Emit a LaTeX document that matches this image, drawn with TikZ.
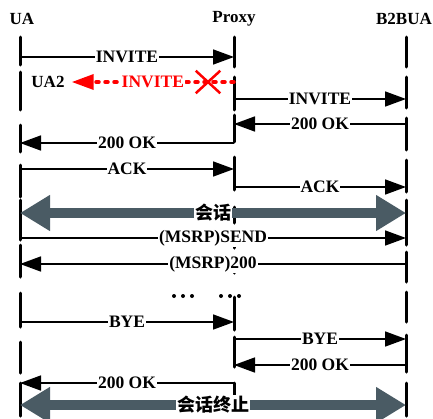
\documentclass[tikz,border=0pt]{standalone}
\usepackage{fontspec}
\setmainfont{Liberation Serif}
\newfontfamily\cjk{Noto Sans CJK SC}
\usetikzlibrary{arrows.meta, positioning, shapes.misc}
\definecolor{sessgray}{HTML}{4A5B64}

\begin{document}
\begin{tikzpicture}[x=1pt, y=-1pt,
    lifeline/.style={line width=3pt, line cap=round},
    msg/.style={line width=1.6pt, -{Triangle[length=21pt, width=15pt]}},
    lbl/.style={fill=white, inner sep=1pt, font=\fontsize{17.5}{18}\selectfont\bfseries},
    actor/.style={font=\fontsize{17}{18}\selectfont\bfseries},
    session/.style={line width=10pt, sessgray,
        {Triangle[length=30pt, width=34pt]}-{Triangle[length=30pt, width=34pt]}},
    sesslbl/.style={fill=white, inner sep=1pt, font=\fontsize{18}{19}\selectfont\cjk\bfseries}]
    \useasboundingbox (0,0) rectangle (433,418);

    % actors
    \node[actor] (ualbl) at (22,19) {UA};
    \node[actor] (pxlbl) at (234,19) {Proxy};
    \node[actor] (bualbl) at (404,19) {B2BUA};
    \coordinate (ua) at (20,0);
    \coordinate (px) at (234,0);
    \coordinate (bua) at (406,0);

    % lifelines
    \foreach \a/\b in {37/65, 72/110, 125/152, 165/197, 200/240, 245/277, 293/327, 342/373, 383/416} {
        \draw[lifeline] (ua |- 0,\a) -- (ua |- 0,\b);
    }
    \foreach \a/\b in {37/67, 77/110, 115/142, 157/190, 207/223, 246/248, 263/273, 297/330, 337/367, 383/403} {
        \draw[lifeline] (px |- 0,\a) -- (px |- 0,\b);
    }
    \foreach \a/\b in {37/67, 77/108, 118/150, 160/192, 200/245, 252/282, 292/322, 335/372, 383/416} {
        \draw[lifeline] (bua |- 0,\a) -- (bua |- 0,\b);
    }

    % messages
    \foreach \from/\to/\y/\txt in {ua/px/57/INVITE, px/bua/99/INVITE, bua/px/124/200 OK,
        px/ua/143/200 OK, ua/px/169/ACK, px/bua/187/ACK, ua/bua/238/(MSRP)SEND,
        bua/ua/264/(MSRP)200, ua/px/322/BYE, px/bua/339/BYE, bua/px/365/200 OK, px/ua/383/200 OK} {
        \draw[msg] (\from |- 0,\y) -- node[lbl] {\txt} (\to |- 0,\y);
    }

    % forked INVITE to UA2, dropped
    \node[actor, inner sep=1pt] (ua2) at (48,82) {UA2};
    \node[cross out, draw=red, line width=2.5pt, minimum width=22pt, minimum height=20pt] (drop) at (208,82) {};
    \draw[red, line width=3.5pt, line cap=round, dash pattern=on 3pt off 6pt,
        -{Triangle[length=22pt, width=15pt]}]
        (px |- drop) -- node[lbl, text=red] {INVITE} ([xshift=6pt]ua2.east);

    % sessions
    \draw[session] (ua |- 0,213) -- node[sesslbl, text=black] {会话} (bua |- 0,213);
    \draw[session] (ua |- 0,405) -- node[sesslbl, text=black] {会话终止} (bua |- 0,405);

    % more MSRP
    \foreach \x in {174,183,192,221,230,239} {
        \fill (\x,296) circle (2pt);
    }
\end{tikzpicture}
\end{document}
